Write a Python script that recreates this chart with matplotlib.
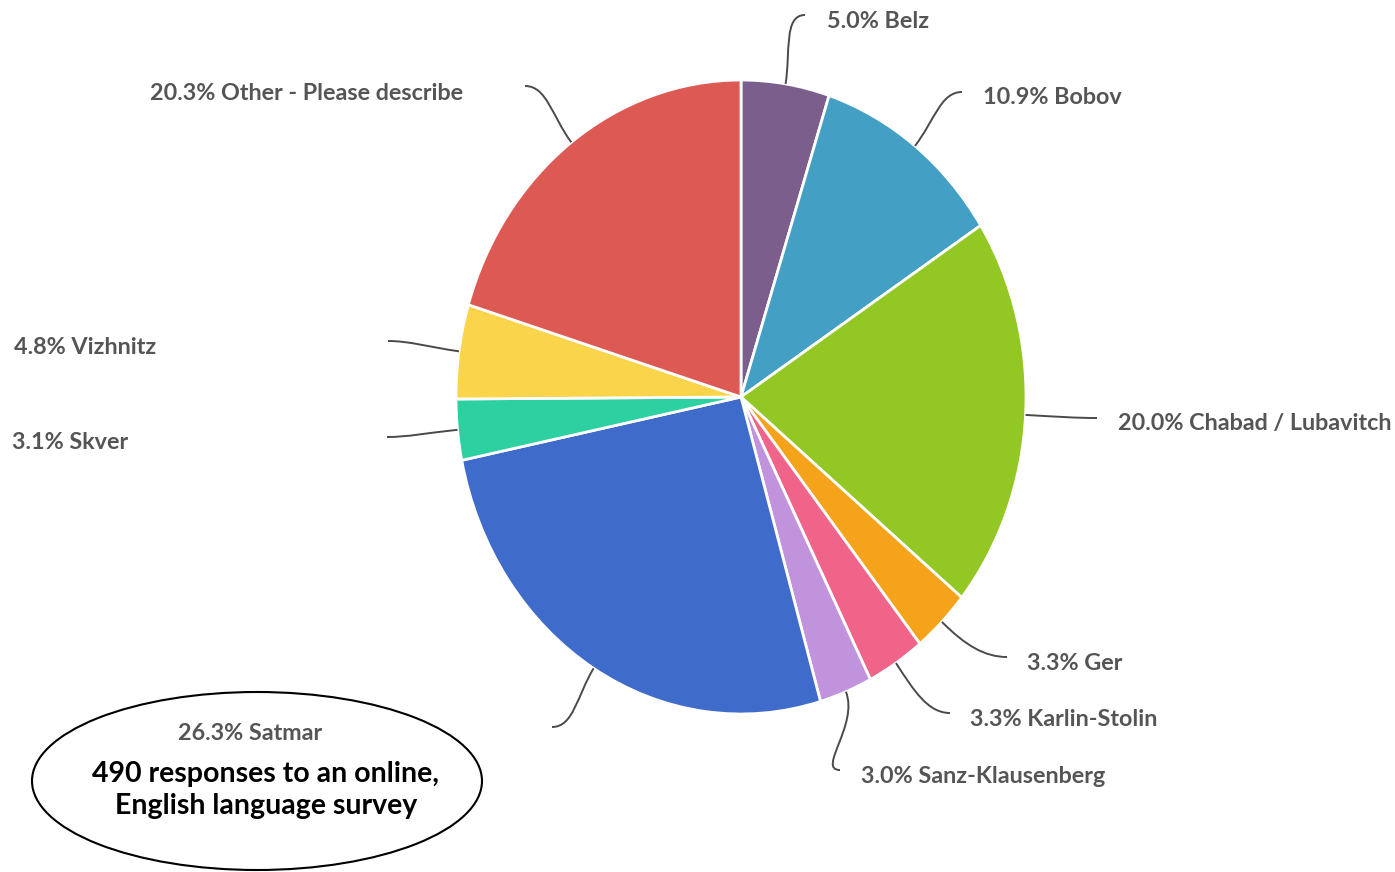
import numpy as np
import matplotlib
matplotlib.use("Agg")
import matplotlib.pyplot as plt
from matplotlib.patches import Ellipse, PathPatch
from matplotlib.path import Path

labels = ["Belz", "Bobov", "Chabad / Lubavitch", "Ger", "Karlin-Stolin",
          "Sanz-Klausenberg", "Satmar", "Skver", "Vizhnitz", "Other - Please describe"]
shares = [5.0, 10.9, 20.0, 3.3, 3.3, 3.0, 26.3, 3.1, 4.8, 20.3]
colors = ["#7b5e8c", "#43a0c4", "#93c724", "#f5a31b", "#f0648a",
          "#c193dc", "#3f6ccb", "#2dd1a1", "#fad44a", "#dd5a54"]
note = "490 responses to an online,\nEnglish language survey"

W, H = 1395, 872
# pie bounding box in pixels (the original is stretched vertically)
cx, cy, rx, ry = 741, 397, 285, 317

# label placement: leader end point and text anchor (left x, centre y)
leader_end = [(805, 15), (962, 92), (1097, 418), (1007, 657), (950, 713),
              (840, 770), (552, 727), (387, 437), (388, 341), (525, 86)]
text_pos = [(827, 22), (983, 97), (1118, 423), (1027, 663), (970, 719),
            (861, 776), (178, 733), (12, 442), (14, 347), (150, 93)]

fig = plt.figure(figsize=(W / 100, H / 100), dpi=100)
fig.patch.set_facecolor("white")

pie_ax = fig.add_axes([(cx - rx) / W, 1 - (cy + ry) / H, 2 * rx / W, 2 * ry / H])
pie_ax.pie(shares, colors=colors, startangle=90, counterclock=False, radius=1,
           wedgeprops=dict(edgecolor="white", linewidth=2))
pie_ax.set_aspect("auto")
pie_ax.set_xlim(-1, 1)
pie_ax.set_ylim(-1, 1)
pie_ax.axis("off")

ax = fig.add_axes([0, 0, 1, 1])
ax.set_xlim(0, W)
ax.set_ylim(H, 0)
ax.axis("off")

cum = np.cumsum([0] + shares)
mids = (cum[:-1] + cum[1:]) / 2 / 100 * 2 * np.pi
for i, lab in enumerate(labels):
    th = mids[i]
    sx, sy = cx + rx * np.sin(th), cy - ry * np.cos(th)
    ex, ey = leader_end[i]
    dist = np.hypot(ex - sx, ey - sy)
    p1 = (sx + np.sin(th) * dist * 0.45, sy - np.cos(th) * dist * 0.45)
    side = 1 if ex > cx else -1
    p2 = (ex - side * dist * 0.3, ey)
    path = Path([(sx, sy), p1, p2, (ex, ey)],
                [Path.MOVETO, Path.CURVE4, Path.CURVE4, Path.CURVE4])
    ax.add_patch(PathPatch(path, facecolor="none", edgecolor="#4a4a4a", lw=1.4))

ax.add_patch(Ellipse((257, 781), 450, 178, facecolor="white", edgecolor="black", lw=1.5))

for i, lab in enumerate(labels):
    tx, ty = text_pos[i]
    ax.text(tx, ty, f"{shares[i]:.1f}% {lab}", ha="left", va="center",
            fontsize=16.8, family="Lato", fontweight="bold", color="#555555")

ax.text(266, 790, note, ha="center", va="center", fontsize=20.5, family="Lato",
        fontweight="bold", color="black", linespacing=1.25)

fig.savefig("out.png", dpi=100)
